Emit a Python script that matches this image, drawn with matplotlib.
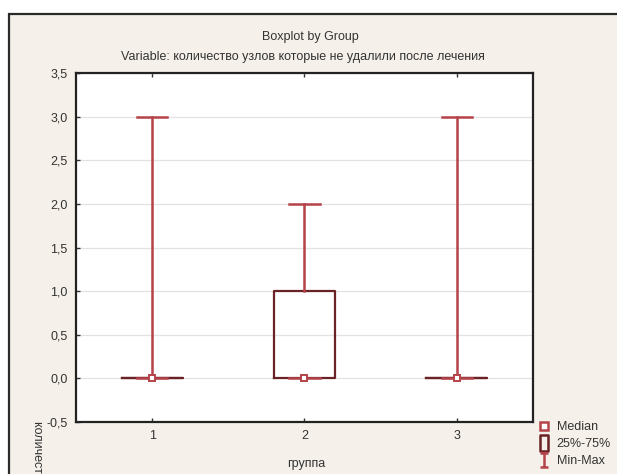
import numpy as np
import matplotlib.pyplot as plt
from matplotlib.patches import Rectangle
from matplotlib.lines import Line2D
from matplotlib.path import Path
from matplotlib.ticker import FuncFormatter

plt.rcParams['font.family'] = ['Liberation Sans', 'DejaVu Sans']
plt.rcParams['font.size'] = 9

groups = [1, 2, 3]
mins = [0, 0, 0]
q1s = [0, 0, 0]
medians = [0, 0, 0]
q3s = [0, 1, 0]
maxs = [3, 2, 3]

title = 'Boxplot by Group'
subtitle = 'Variable: количество узлов которые не удалили после лечения'
ylabel = 'количество узлов которые не удалили после лечения'
xlabel = 'группа'
leg_txt = ['Median', '25%-75%', 'Min-Max']

red = '#b5434a'
dark = '#6a2226'
bg = '#f5f1ea'
text_col = '#333333'

W, H = 617, 474
fig = plt.figure(figsize=(W / 100, H / 100), dpi=100)
fig.patch.set_facecolor('white')

# beige panel with dark frame behind everything
frame = Rectangle((8.5 / W, -0.05), 1.2, 1 - 13.5 / H + 0.05,
                  transform=fig.transFigure, facecolor=bg,
                  edgecolor='#2a2a2a', lw=1.6, zorder=-10)
fig.patches.append(frame)

ax = fig.add_axes([76 / W, 52 / H, 457 / W, 349 / H])
ax.set_facecolor('white')

stats = [dict(med=m, q1=a, q3=b, whislo=lo, whishi=hi, fliers=[])
         for m, a, b, lo, hi in zip(medians, q1s, q3s, mins, maxs)]
ax.bxp(stats, positions=groups, widths=0.4, capwidths=0.2,
       boxprops=dict(color=dark, lw=1.6),
       whiskerprops=dict(color=red, lw=1.8),
       capprops=dict(color=red, lw=1.8),
       medianprops=dict(visible=False),
       showfliers=False, manage_ticks=False, zorder=3)
ax.plot(groups, medians, ls='none', marker='s', ms=5, mfc='white',
        mec=red, mew=1.4, zorder=4)

ax.set_xlim(0.5, 3.5)
ax.set_ylim(-0.5, 3.5)
ax.set_xticks(groups)
ax.set_yticks(np.arange(-0.5, 3.51, 0.5))
ax.yaxis.set_major_formatter(FuncFormatter(lambda v, p: f'{v:.1f}'.replace('.', ',')))
ax.tick_params(direction='in', length=3, width=1, colors=text_col,
               top=True, labelsize=9, pad=6)
ax.grid(axis='y', color='#e2e2e2', lw=0.9, zorder=0)
ax.set_axisbelow(True)
for s in ax.spines.values():
    s.set_color('#222222')
    s.set_linewidth(1.6)

fig.text(310 / W, 1 - 37 / H, title, ha='center', va='center', color=text_col)
fig.text(303 / W, 1 - 57 / H, subtitle, ha='center', va='center', color=text_col)
fig.text(306 / W, 1 - 464 / H, xlabel, ha='center', va='center', color=text_col)
fig.text(37 / W, 1 - 421 / H, ylabel, ha='center', va='top', rotation=-90,
         color=text_col)

# legend symbols
box_marker = Path([(-0.45, -1), (0.45, -1), (0.45, 1), (-0.45, 1), (-0.45, -1)],
                  [Path.MOVETO, Path.LINETO, Path.LINETO, Path.LINETO, Path.CLOSEPOLY])
i_marker = Path([(-0.5, -1), (0.5, -1), (0, -1), (0, 1), (-0.5, 1), (0.5, 1)],
                [Path.MOVETO, Path.LINETO, Path.MOVETO, Path.LINETO, Path.MOVETO, Path.LINETO])
handles = [Line2D([], [], ls='none', marker='s', ms=6, mfc='white', mec=red, mew=1.8),
           Line2D([], [], ls='none', marker=box_marker, ms=11.5, mfc='none', mec=dark, mew=1.8),
           Line2D([], [], ls='none', marker=i_marker, ms=10.5, mfc='none', mec=red, mew=1.8)]
fig.legend(handles, leg_txt, loc='upper left', bbox_to_anchor=(538 / W, 1 - 421 / H),
           frameon=False, handlelength=1.0, handletextpad=0.5, labelspacing=0.42,
           borderpad=0, borderaxespad=0, fontsize=9, labelcolor=text_col)

plt.savefig('out.png', dpi=100)
